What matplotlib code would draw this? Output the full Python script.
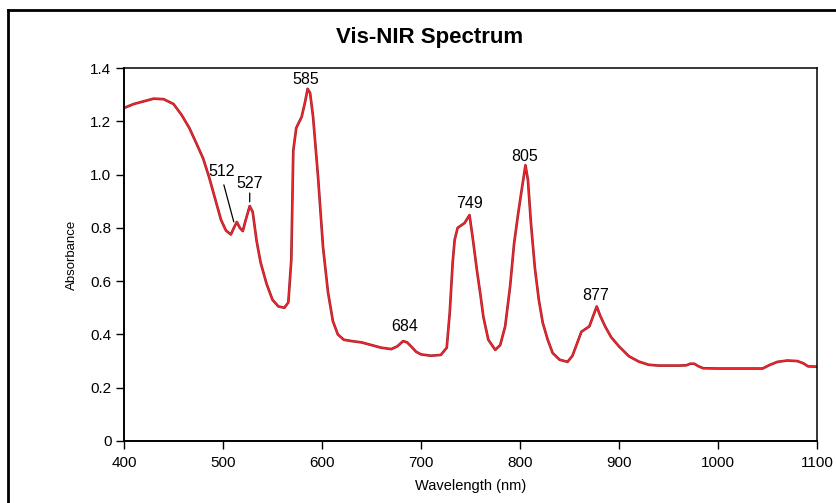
import numpy as np
import matplotlib
matplotlib.use("Agg")
import matplotlib.pyplot as plt
from matplotlib.lines import Line2D

# Spectrum (wavelength nm, absorbance)
wavelength = [400, 410, 420, 430, 440, 450, 458, 466, 474, 480, 486, 492, 498, 503,
              508, 511, 514, 517, 520, 523, 527, 530, 534, 538, 544, 550, 556, 562,
              566, 569, 571, 574, 579.5, 583, 585.5, 588, 591, 596, 601, 606, 611,
              616, 622, 630, 640, 650, 660, 670, 676, 682, 686, 690, 695, 700, 710,
              720, 726, 729, 732, 734, 737, 744, 749, 752.5, 756.5, 760, 763, 768,
              775, 780, 785, 790, 794, 798, 802, 805.5, 808, 811, 815, 819, 823,
              828, 833, 840, 848, 853, 858, 862, 866, 870, 874, 877.5, 881, 886,
              892, 900, 910, 920, 930, 940, 960, 968, 972, 976, 980, 985, 1000,
              1045, 1052, 1060, 1070, 1080, 1086, 1091, 1100]
absorbance = [1.25, 1.265, 1.275, 1.285, 1.283, 1.265, 1.225, 1.175, 1.11, 1.06, 0.99,
              0.91, 0.83, 0.79, 0.775, 0.80, 0.822, 0.80, 0.788, 0.83, 0.882, 0.86,
              0.75, 0.67, 0.59, 0.53, 0.505, 0.50, 0.52, 0.68, 1.09, 1.175, 1.217,
              1.274, 1.322, 1.306, 1.217, 0.992, 0.73, 0.56, 0.45, 0.40, 0.38, 0.375,
              0.37, 0.36, 0.35, 0.345, 0.355, 0.375, 0.37, 0.355, 0.335, 0.325, 0.32,
              0.323, 0.35, 0.48, 0.67, 0.755, 0.80, 0.818, 0.848, 0.755, 0.64, 0.55,
              0.466, 0.38, 0.342, 0.36, 0.43, 0.58, 0.74, 0.85, 0.95, 1.035, 0.98,
              0.82, 0.65, 0.53, 0.443, 0.38, 0.33, 0.305, 0.297, 0.32, 0.37, 0.41,
              0.42, 0.43, 0.47, 0.505, 0.47, 0.43, 0.39, 0.355, 0.318, 0.298, 0.286,
              0.283, 0.283, 0.284, 0.29, 0.29, 0.281, 0.273, 0.272, 0.272, 0.285,
              0.297, 0.302, 0.300, 0.292, 0.280, 0.279]

# Peak labels and where each label sits, in pixels from its peak
peaks = [512, 527, 585, 684, 749, 805, 877]
peak_offsets = [(-13, 54), (0, 23), (-1, 12), (0, 15), (0, 12), (0, 12), (-1, 12)]
# Leader lines (start offset in pixels from the peak) for the two close peaks
leaders = {512: (-11, 41), 527: (0, 13)}

x_ticks = [400, 500, 600, 700, 800, 900, 1000, 1100]
y_ticks = [0, 0.2, 0.4, 0.6, 0.8, 1.0, 1.2, 1.4]
y_tick_labels = ['0', '0.2', '0.4', '0.6', '0.8', '1.0', '1.2', '1.4']

plt.rcParams['font.family'] = ['Liberation Sans', 'DejaVu Sans']

fig = plt.figure(figsize=(8.36, 5.03), dpi=100)
ax = fig.add_axes([0.1483, 0.1233, 0.829, 0.7415])

# Spectrum line: dark underlay and red on top
ax.plot(wavelength, absorbance, color='#a01f2a', linewidth=1.9, solid_joinstyle='round')
ax.plot(wavelength, absorbance, color='#f0262c', linewidth=1.0, solid_joinstyle='round')

ax.set_xlim(400, 1100)
ax.set_ylim(0, 1.4)
ax.set_xticks(x_ticks)
ax.set_yticks(y_ticks)
ax.set_yticklabels(y_tick_labels)
ax.tick_params(direction='out', length=6, width=1, labelsize=11, colors='black')
ax.tick_params(axis='x', pad=5)
ax.tick_params(axis='y', pad=3)
for side, spine in ax.spines.items():
    spine.set_linewidth(1.4 if side in ('left', 'bottom') else 1.1)

ax.set_xlabel('Wavelength (nm)', fontsize=10.5, labelpad=6)
ax.set_ylabel('Absorbance', fontsize=9.5, labelpad=9)

# Annotate the peaks
for wl, off in zip(peaks, peak_offsets):
    yv = np.interp(wl, wavelength, absorbance)
    ax.annotate(str(wl), xy=(wl, yv), xytext=off, textcoords='offset pixels',
                ha='center', va='center', fontsize=11.5)
    if wl in leaders:
        ax.annotate('', xy=(wl, yv), xytext=leaders[wl], textcoords='offset pixels',
                    arrowprops=dict(arrowstyle='-', color='black', lw=0.9,
                                    shrinkA=0, shrinkB=3))

# Title and figure border
fig.text(0.514, 0.926, 'Vis-NIR Spectrum', ha='center', va='center', fontsize=16,
         fontweight='bold', family=['Liberation Sans Narrow', 'Liberation Sans', 'DejaVu Sans'])
top = 1 - 10 / 503
left = 8 / 836
fig.add_artist(Line2D([left, left], [0, top], transform=fig.transFigure, color='black', lw=2))
fig.add_artist(Line2D([left, 1], [top, top], transform=fig.transFigure, color='black', lw=2))

fig.savefig('out.png', dpi=100)
